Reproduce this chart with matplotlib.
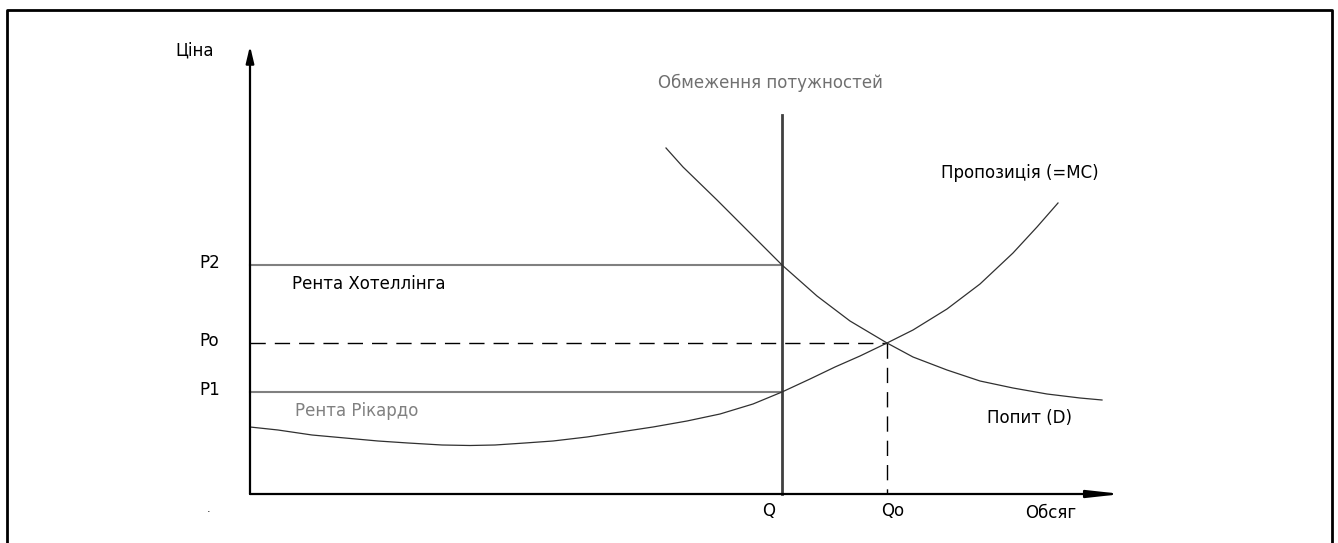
import numpy as np
import matplotlib
matplotlib.use("Agg")
import matplotlib.pyplot as plt

# key levels (quantity / price units)
q_cap = 5.32      # Q  - capacity limit
q_eq = 6.37       # Qo - equilibrium quantity
p2 = 2.29         # P2 - price at capacity (on demand)
p_eq = 1.51       # Po - equilibrium price
p1 = 1.02         # P1 - marginal cost at capacity
x_end = 8.72
y_end = 4.48
cap_top = 3.79

# demand curve points
demand_q = [4.16, 4.33, 4.67, 5.00, 5.32, 5.67, 6.00, 6.37, 6.63, 6.97, 7.30, 7.63, 7.97, 8.30, 8.52]
demand_p = [3.46, 3.27, 2.94, 2.61, 2.29, 1.98, 1.73, 1.51, 1.37, 1.24, 1.13, 1.06, 1.00, 0.96, 0.94]

# supply (=MC) curve points
supply_q = [0.00, 0.28, 0.62, 0.95, 1.28, 1.58, 1.92, 2.20, 2.45, 2.75, 3.03, 3.37, 3.70, 4.03,
            4.37, 4.70, 5.03, 5.32, 5.60, 5.85, 6.10, 6.37, 6.63, 6.97, 7.30, 7.63, 7.87, 8.08]
supply_p = [0.67, 0.64, 0.59, 0.56, 0.53, 0.51, 0.49, 0.485, 0.49, 0.51, 0.53, 0.57, 0.62, 0.67,
            0.73, 0.80, 0.90, 1.02, 1.15, 1.27, 1.38, 1.51, 1.64, 1.85, 2.10, 2.41, 2.67, 2.91]

price_ticks = ["P2", "Po", "P1"]
qty_ticks = ["Q", "Qo"]

plt.rcParams['font.family'] = ['DejaVu Sans']
fs = 12

fig = plt.figure(figsize=(13.38, 5.43), dpi=100)
ax = fig.add_axes([0, 0, 1, 1])
# 1 unit = 100 px, origin of the diagram at pixel (250, 494)
ax.set_xlim(-2.50, 10.88)
ax.set_ylim(-0.49, 4.94)
ax.axis('off')

# frame around the picture
ax.plot([-2.43, -2.43, 10.82, 10.82], [-0.60, 4.84, 4.84, -0.60],
        color='black', lw=2, clip_on=False)

# axes with arrows
ax.annotate('', xy=(0, y_end), xytext=(0, 0),
            arrowprops=dict(arrowstyle='-|>,head_length=0.5,head_width=0.12',
                            color='black', lw=1.6, mutation_scale=20,
                            shrinkA=0, shrinkB=0))
ax.annotate('', xy=(x_end, 0), xytext=(0, 0),
            arrowprops=dict(arrowstyle='-|>,head_length=1.0,head_width=0.11',
                            color='black', lw=1.6, mutation_scale=20,
                            shrinkA=0, shrinkB=0))

# rent lines
ax.plot([0, q_cap], [p2, p2], color='#808080', lw=1.5)
ax.plot([0, q_cap], [p1, p1], color='#808080', lw=1.5)

# equilibrium dashed lines
ax.plot([0, q_eq], [p_eq, p_eq], color='black', lw=1, dashes=(11, 6.5))
ax.plot([q_eq, q_eq], [p_eq, 0], color='black', lw=1, dashes=(11, 6.5))

# capacity constraint
ax.plot([q_cap, q_cap], [0, cap_top], color='#404040', lw=2)

# curves
ax.plot(demand_q, demand_p, color='#303030', lw=0.9)
ax.plot(supply_q, supply_p, color='#303030', lw=0.9)

# tick labels
for lab, val in zip(price_ticks, [p2, p_eq, p1]):
    ax.text(-0.51, val + 0.02, lab, fontsize=fs, ha='left', va='center')
for lab, val in zip(qty_ticks, [q_cap, q_eq]):
    ax.text(val - 0.13 if lab == "Q" else val + 0.06, -0.17, lab,
            fontsize=fs, ha='center', va='center')

# axis titles
ax.text(-0.75, 4.44, "Ціна", fontsize=fs, ha='left', va='center')
ax.text(7.75, -0.19, "Обсяг", fontsize=fs, ha='left', va='center')
ax.text(-0.41, -0.15, ".", fontsize=8, ha='center', va='center')

# annotations
ax.text(5.20, 4.11, "Обмеження потужностей", fontsize=fs, color='#707070',
        ha='center', va='center')
ax.text(6.91, 3.21, "Пропозиція (=MC)", fontsize=fs, ha='left', va='center')
ax.text(7.37, 0.76, "Попит (D)", fontsize=fs, ha='left', va='center')
ax.text(0.42, 2.10, "Рента Хотеллінга", fontsize=fs, ha='left', va='center')
ax.text(0.45, 0.83, "Рента Рікардо", fontsize=fs, color='#808080',
        ha='left', va='center')

fig.savefig("out.png", dpi=100, facecolor='white')
